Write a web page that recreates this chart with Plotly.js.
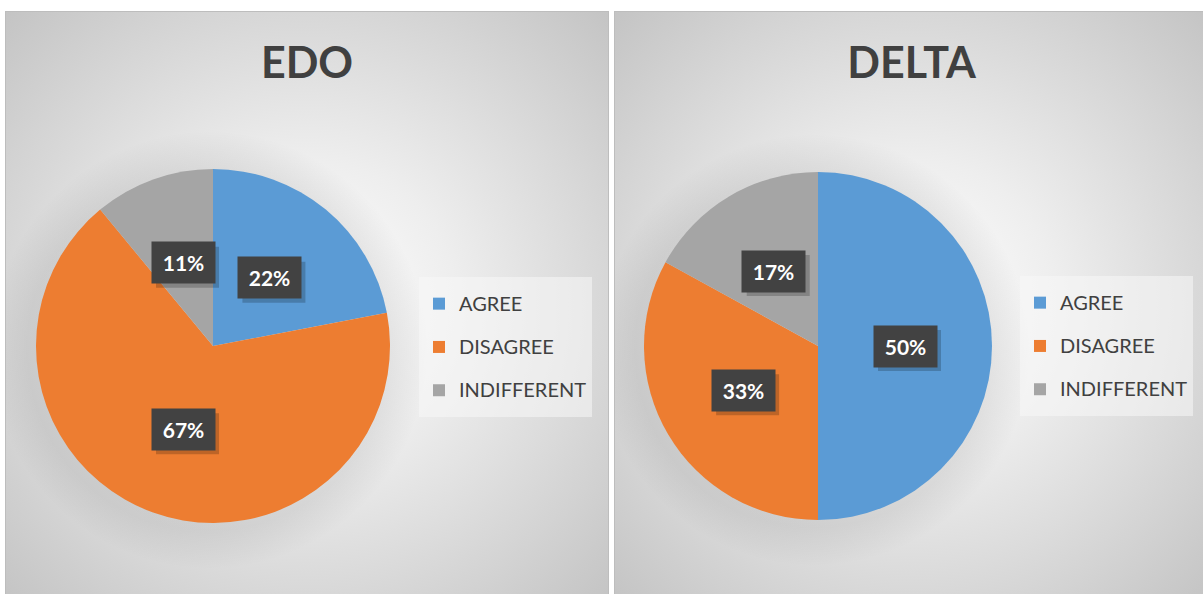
<!DOCTYPE html>
<html>
<head>
<meta charset="utf-8">
<script src="https://cdn.plot.ly/plotly-3.0.1.min.js"></script>
<style>
  html, body { margin: 0; padding: 0; background: #ffffff; width: 1203px; height: 594px; overflow: hidden; }
  .panel { position: absolute; top: 11px; height: 590px; box-sizing: border-box;
           border: 1px solid #bdbdbd; overflow: hidden; }
  .panel .plot { position: absolute; left: 0; top: 0; }
</style>
</head>
<body>
<div id="p1" class="panel" style="left:5px; width:604px;"><div id="edo" class="plot"></div></div>
<div id="p2" class="panel" style="left:614px; width:595px;"><div id="delta" class="plot"></div></div>
<script>
// ---- data ----
const categories = ['AGREE', 'DISAGREE', 'INDIFFERENT'];
const edoValues = [22, 67, 11];
const deltaValues = [50, 33, 17];
const chartTitles = ['EDO', 'DELTA'];
const sliceColors = ['#5B9BD5', '#ED7D31', '#A5A5A5'];

const FONT = 'Lato, "Open Sans", "Liberation Sans", sans-serif';
const TEXT = '#404040';

function drawPanel(divId, panelId, title, values, cfg) {
  const W = cfg.W, H = cfg.H;
  const r = cfg.r;
  const dom = {
    x: [(cfg.cx - r) / W, (cfg.cx + r) / W],
    y: [1 - (cfg.cy + r) / H, 1 - (cfg.cy - r) / H]
  };
  const total = values.reduce((a, b) => a + b, 0);
  const annotations = [];
  const shapes = [];
  let acc = 0;
  values.forEach((v, i) => {
    const mid = (acc + v / 2) / total * 2 * Math.PI;
    acc += v;
    const cxp = (dom.x[0] + dom.x[1]) / 2, cyp = (dom.y[0] + dom.y[1]) / 2;
    const x = cxp + 0.5 * r * Math.sin(mid) / W;
    const y = cyp + 0.5 * r * Math.cos(mid) / H;
    const txt = '<b>' + Math.round(v / total * 100) + '%</b>';
    shapes.push({
      type: 'rect', xref: 'paper', yref: 'paper',
      xsizemode: 'pixel', ysizemode: 'pixel', xanchor: x, yanchor: y,
      x0: -27, x1: 36, y0: -25, y1: 16,
      fillcolor: 'rgba(0,0,0,0.2)', line: {width: 0}, layer: 'above'
    });
    annotations.push({
      xref: 'paper', yref: 'paper', x: x, y: y, xanchor: 'center', yanchor: 'middle',
      showarrow: false, text: txt,
      font: {family: FONT, size: 21, color: '#ffffff'},
      bgcolor: '#424242', width: 57, height: 35, borderpad: 3
    });
  });

  const panel = document.getElementById(panelId);
  panel.style.background =
    'radial-gradient(circle at ' + (cfg.cx - 4) + 'px ' + (cfg.cy + 4) + 'px, rgba(0,0,0,0.08) 0px, rgba(0,0,0,0.07) ' + (r + 4) + 'px, rgba(0,0,0,0) ' + (r + 42) + 'px), ' +
    'radial-gradient(ellipse farthest-corner at 50% 50%, #ffffff 0%, #eeeeee 35%, #c4c4c4 100%)';

  const trace = {
    type: 'pie',
    values: values,
    labels: categories.map(c => '<span style="font-size:20px;baseline-shift:5px">' + c + '</span>'),
    marker: {colors: sliceColors, line: {width: 0}},
    sort: false,
    direction: 'clockwise',
    rotation: 0,
    textinfo: 'none',
    hoverinfo: 'none',
    domain: dom
  };
  const layout = {
    width: W, height: H,
    margin: {l: 0, r: 0, t: 0, b: 0},
    paper_bgcolor: 'rgba(0,0,0,0)',
    plot_bgcolor: 'rgba(0,0,0,0)',
    title: {
      text: title, x: 0.5, xanchor: 'center', xref: 'paper',
      y: 1 - 51 / H, yanchor: 'middle', yref: 'container',
      font: {family: FONT, size: 43, color: TEXT, weight: 700}
    },
    showlegend: true,
    legend: {
      x: cfg.lx / W, xanchor: 'left', y: 1 - cfg.ly / H, yanchor: 'top',
      bgcolor: 'rgba(248,248,248,0.55)',
      font: {family: FONT, size: 31, color: TEXT},
      traceorder: 'normal', itemclick: false, itemdoubleclick: false
    },
    shapes: shapes,
    annotations: annotations
  };
  Plotly.newPlot(divId, [trace], layout, {displayModeBar: false, staticPlot: true});
}

drawPanel('edo', 'p1', chartTitles[0], edoValues, {W: 602, H: 588, cx: 207, cy: 334, r: 177, lx: 413, ly: 265});
drawPanel('delta', 'p2', chartTitles[1], deltaValues, {W: 593, H: 588, cx: 203, cy: 334, r: 174, lx: 405, ly: 264});
</script>
</body>
</html>
